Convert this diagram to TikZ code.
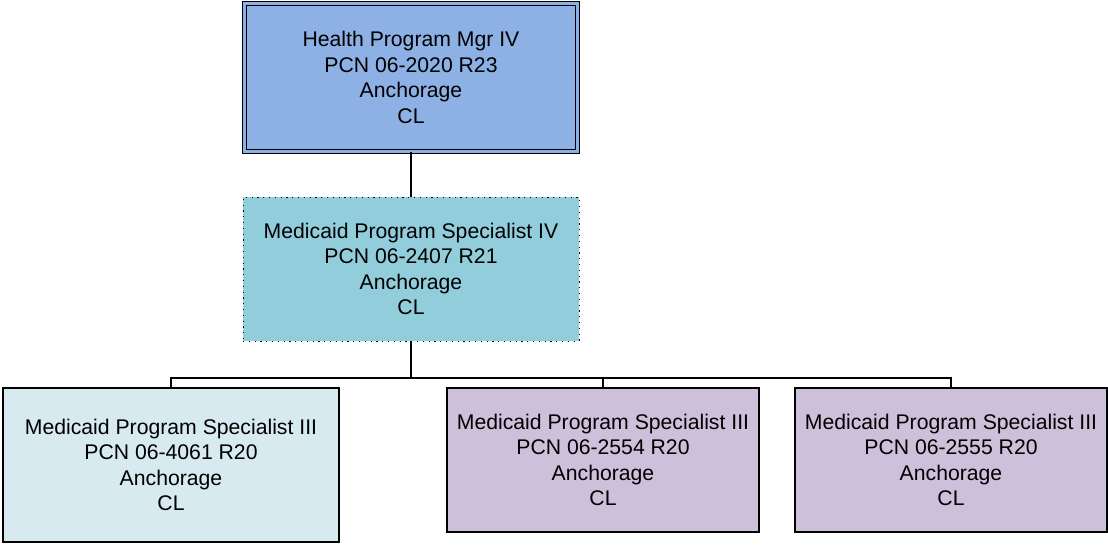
\documentclass[tikz,border=0pt]{standalone}
\usepackage{fontspec}
\setmainfont{Liberation Sans}
\definecolor{mgrblue}{RGB}{141,177,228}
\definecolor{specteal}{RGB}{146,205,220}
\definecolor{paleblue}{RGB}{214,234,240}
\definecolor{lilac}{RGB}{204,192,218}
\tikzset{
  posbox/.style={draw=black, line width=1.4pt, align=center, inner sep=0pt,
    font=\fontsize{21.2}{25.4}\selectfont},
  orgline/.style={draw=black, line width=1.4pt}
}

\begin{document}
\begin{tikzpicture}[x=1pt,y=-1pt]
            \useasboundingbox (0,0) rectangle (1108,544);
            % top position
            \node[posbox, fill=mgrblue, double=mgrblue, double distance=2.6pt, line width=1.6pt,
              minimum width=333pt, minimum height=148pt] (mgr) at (411,77.5)
              {Health Program Mgr IV\\PCN 06-2020 R23\\Anchorage\\CL};
            % second level
            \node[posbox, fill=specteal, line width=0.9pt, dash pattern=on 1.2pt off 4.6pt,
              minimum width=336pt, minimum height=144pt] (spec) at (411,269)
              {Medicaid Program Specialist IV\\PCN 06-2407 R21\\Anchorage\\CL};
            % third level
            \node[posbox, fill=paleblue, minimum width=336pt, minimum height=154pt] (staffA) at (171,465)
              {Medicaid Program Specialist III\\PCN 06-4061 R20\\Anchorage\\CL};
            \node[posbox, fill=lilac, minimum width=312pt, minimum height=144pt] (staffB) at (603,460)
              {Medicaid Program Specialist III\\PCN 06-2554 R20\\Anchorage\\CL};
            \node[posbox, fill=lilac, minimum width=312pt, minimum height=144pt] (staffC) at (951,460)
              {Medicaid Program Specialist III\\PCN 06-2555 R20\\Anchorage\\CL};
            \draw[orgline] (mgr.south) -- (spec.north);
            \coordinate (bus) at (411,378);
            \draw[orgline] (spec.south) -- (bus);
            \foreach \s in {staffA,staffB,staffC}{
              \draw[orgline] (bus) -| (\s.north);
            }
          \end{tikzpicture}
\end{document}
